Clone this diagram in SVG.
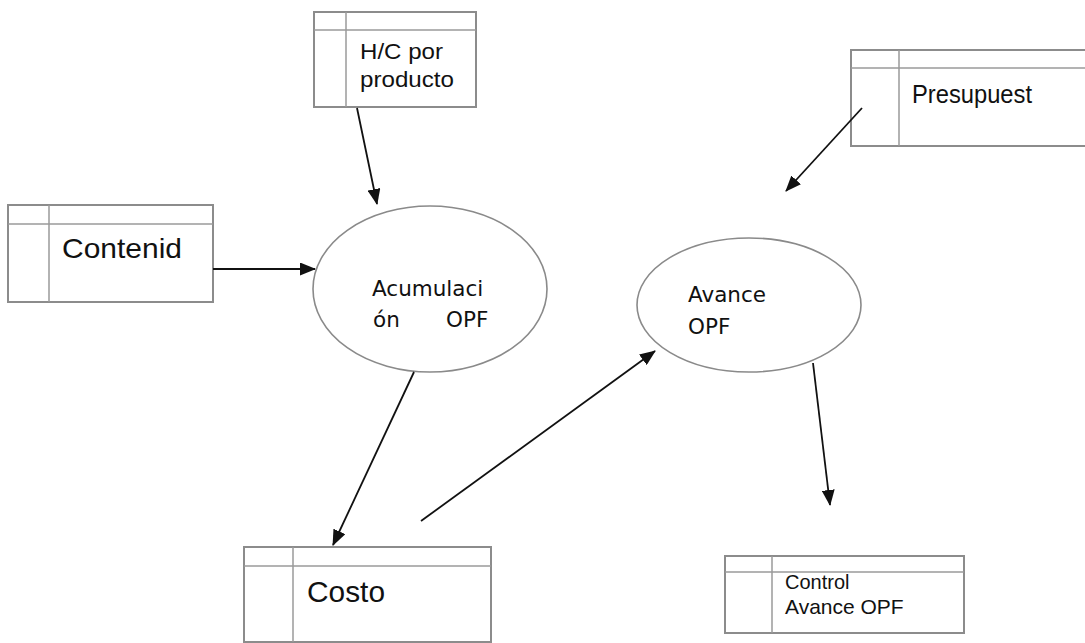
<svg xmlns="http://www.w3.org/2000/svg" width="1085" height="643" viewBox="0 0 1085 643">
<style>
.box{fill:#fff;stroke:#8c8c8c;stroke-width:2}
.div{stroke:#9a9a9a;stroke-width:1.5}
.ell{fill:#fff;stroke:#8a8a8a;stroke-width:1.6}
.t{font-family:"Liberation Sans",Arial,sans-serif;fill:#111}
.e{font-family:"DejaVu Sans",Verdana,sans-serif;fill:#111;font-size:21.5px}
.c{stroke:#111;stroke-width:1.8;fill:none;marker-end:url(#ah)}
</style>
<defs>
<marker id="ah" viewBox="0 0 16 13" refX="15" refY="6.5" markerWidth="16" markerHeight="13" markerUnits="userSpaceOnUse" orient="auto">
<path d="M0,0 L16,6.5 L0,13 z" fill="#111"/>
</marker>
</defs>
<rect width="1085" height="643" fill="#fff"/>
<g id="hc">
<rect class="box" x="314" y="12" width="162" height="95"/>
<line class="div" x1="314" y1="30" x2="476" y2="30"/>
<line class="div" x1="346" y1="12" x2="346" y2="107"/>
<text class="t" x="360" y="59" font-size="22" textLength="83" lengthAdjust="spacingAndGlyphs">H/C por</text>
<text class="t" x="360" y="87" font-size="22" textLength="94" lengthAdjust="spacingAndGlyphs">producto</text>
</g>
<g id="contenid">
<rect class="box" x="8" y="205" width="205" height="97"/>
<line class="div" x1="8" y1="224" x2="213" y2="224"/>
<line class="div" x1="49" y1="205" x2="49" y2="302"/>
<text class="t" x="62" y="258" font-size="28" textLength="120" lengthAdjust="spacingAndGlyphs">Contenid</text>
</g>
<g id="presupuest">
<rect class="box" x="851" y="50" width="245" height="96"/>
<line class="div" x1="851" y1="68" x2="1085" y2="68"/>
<line class="div" x1="899" y1="50" x2="899" y2="146"/>
<text class="t" x="912" y="103" font-size="25" textLength="120" lengthAdjust="spacingAndGlyphs">Presupuest</text>
</g>
<g id="costo">
<rect class="box" x="244" y="547" width="247" height="95"/>
<line class="div" x1="244" y1="566" x2="491" y2="566"/>
<line class="div" x1="293" y1="547" x2="293" y2="642"/>
<text class="t" x="307" y="602" font-size="29" textLength="78" lengthAdjust="spacingAndGlyphs">Costo</text>
</g>
<g id="control">
<rect class="box" x="725" y="556" width="239" height="77"/>
<line class="div" x1="725" y1="572" x2="964" y2="572"/>
<line class="div" x1="772" y1="556" x2="772" y2="633"/>
<text class="t" x="785" y="589" font-size="20">Control</text>
<text class="t" x="785" y="614" font-size="21">Avance OPF</text>
</g>
<g id="acumulacion">
<ellipse class="ell" cx="430" cy="289" rx="117" ry="83"/>
<text class="e" x="372" y="296">Acumulaci</text>
<text class="e" x="373" y="327">ón</text>
<text class="e" x="446" y="327">OPF</text>
</g>
<g id="avance">
<ellipse class="ell" cx="749" cy="305" rx="112" ry="67"/>
<text class="e" x="688" y="302">Avance</text>
<text class="e" x="688" y="334">OPF</text>
</g>
<g id="connectors">
<line class="c" x1="357" y1="108" x2="377" y2="204"/>
<line class="c" x1="213" y1="269" x2="315" y2="269"/>
<line class="c" x1="414" y1="372" x2="333" y2="545"/>
<line class="c" x1="421" y1="521" x2="655" y2="351"/>
<line class="c" x1="862" y1="108" x2="786" y2="191"/>
<line class="c" x1="813" y1="363" x2="830" y2="505"/>
</g>
</svg>
